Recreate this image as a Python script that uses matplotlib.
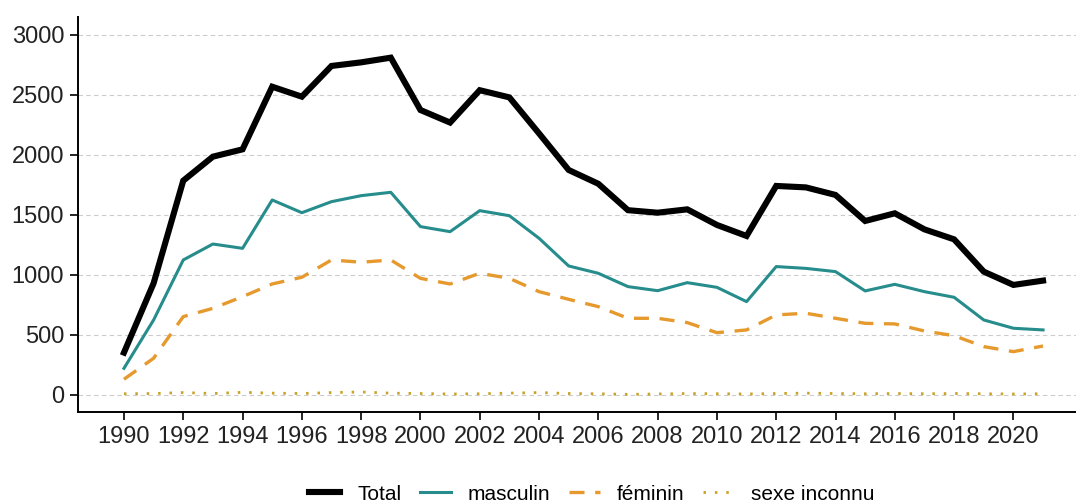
import matplotlib
matplotlib.use('Agg')
from matplotlib import pyplot as plt

years = list(range(1990, 2022))

total = [353, 931, 1786, 1986, 2047, 2569, 2486, 2742, 2772, 2811,
         2375, 2270, 2540, 2480, 2180, 1875, 1760, 1540, 1519, 1547,
         1417, 1325, 1742, 1730, 1667, 1450, 1514, 1380, 1297, 1028,
         917, 953]
masculin = [222, 625, 1125, 1258, 1222, 1625, 1519, 1611, 1661, 1689,
            1403, 1361, 1536, 1494, 1306, 1075, 1014, 903, 869, 936,
            897, 778, 1070, 1055, 1028, 867, 922, 861, 814, 625,
            556, 542]
feminin = [131, 306, 653, 722, 819, 925, 981, 1125, 1106, 1125,
           972, 925, 1014, 972, 861, 797, 736, 639, 639, 603,
           519, 542, 667, 681, 639, 597, 592, 533, 494, 403,
           361, 408]
inconnu = [10, 12, 20, 12, 22, 15, 12, 20, 25, 15,
           12, 8, 10, 15, 20, 12, 10, 5, 8, 12,
           10, 8, 12, 15, 12, 10, 12, 10, 12, 10,
           8, 10]

x_ticks = list(range(1990, 2021, 2))
y_ticks = [0, 500, 1000, 1500, 2000, 2500, 3000]

plt.rcParams['font.family'] = ['Liberation Sans', 'DejaVu Sans']

fig = plt.figure(figsize=(10.76, 5.03), dpi=100)
ax = fig.add_axes([78 / 1076, 1 - 412 / 503, (1089 - 78) / 1076, (412 - 17) / 503])

ax.plot(years, total, color='black', lw=4.4, label='Total', solid_joinstyle='miter')
ax.plot(years, masculin, color='#268c8c', lw=2.2, label='masculin')
ax.plot(years, feminin, color='#e69a2e', lw=2.4, dashes=(4.5, 3.2), label='féminin')
ax.plot(years, inconnu, color='#c9a227', lw=2.0, dashes=(0.9, 3.2), label='sexe inconnu')

ax.set_xlim(1990 - 1.55, 2021 + 1.55)
ax.set_ylim(-142, 3150)
ax.set_xticks(x_ticks)
ax.set_yticks(y_ticks)
ax.tick_params(labelsize=17, length=6, width=1.2, color='black', labelcolor='#222222', pad=4)

ax.grid(axis='y', color='#cccccc', lw=0.8, dashes=(4, 3))
ax.set_axisbelow(True)
for side in ['top', 'right']:
    ax.spines[side].set_visible(False)
for side in ['left', 'bottom']:
    ax.spines[side].set_linewidth(1.4)

fig.legend(loc='center', bbox_to_anchor=(592 / 1076, 1 - 494 / 503), ncol=4,
           frameon=False, fontsize=15, handlelength=1.5, handletextpad=0.8,
           columnspacing=0.9)

fig.savefig('out.png', dpi=100)
